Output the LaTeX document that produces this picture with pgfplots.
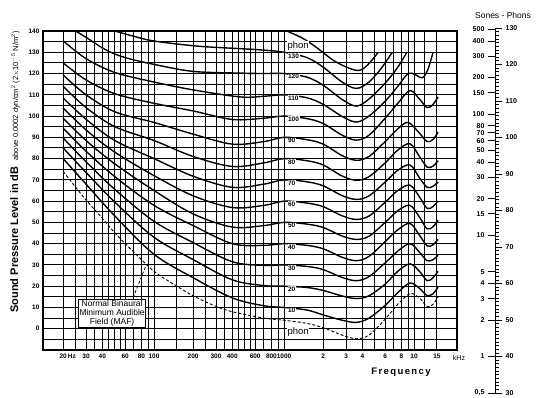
\documentclass[border=0pt]{standalone}
\usepackage{fontspec}
\setmainfont{Liberation Sans}
\usepackage{pgfplots}
\pgfplotsset{compat=1.18}
\newcommand\tk{\fontsize{6.5}{7}\selectfont\bfseries}
\newcommand\tks{\fontsize{7}{8}\selectfont\bfseries}
\pgfplotsset{cur/.style={black, line width=1.4pt, smooth, tension=0.55, mark=none}}
\tikzset{lab/.style={fill=white, inner sep=0.6pt, anchor=west, font=\tk}}
\begin{document}
\begin{tikzpicture}
\path[use as bounding box] (0,0) rectangle (540pt,397pt);
\begin{axis}[
  at={(43pt,47pt)}, anchor=south west,
  scale only axis, width=414pt, height=319pt,
  xmode=log, xmin=14, xmax=21400,
  ymin=-10, ymax=140,
  xtick={20,30,40,60,80,100,200,300,400,600,800,1000,2000,3000,4000,6000,8000,10000,15000},
  xticklabels={20\rlap{\,Hz},30,40,60,80,100,200,300,400,600,800,1000,2,3,4,6,8,10,15},
  extra x ticks={25,35,45,50,55,70,90,150,250,350,450,500,550,700,900,5000,7000,9000,12000},
  extra x tick labels={},
  ytick={0,10,...,140},
  minor ytick={-5,5,...,135},
  xmajorgrids=true, ymajorgrids=true, yminorgrids=true,
  grid style={black, line width=1pt},
  minor grid style={black, line width=1pt},
  extra x tick style={grid style={black, line width=1pt}},
  major tick length=0pt, minor tick length=0pt,
  axis line style={line width=1.6pt},
  tick label style={font=\tk},
  /pgf/number format/assume math mode=true,
  clip=true,
]
% MAF (dashed)
\addplot[black, line width=0.9pt, dash pattern=on 3pt off 2pt, smooth, tension=0.55, mark=none] coordinates {
(20,74)(25,66.5)(30,60.5)(40,52)(50,45)(70,36)(100,27)(150,20)(200,15.5)(300,10.5)(400,8)(700,5)(1000,4)(1500,2.5)(2000,0.5)(2800,-3)(3600,-4.7)(4500,-3)(6000,4.5)(7500,11.5)(9300,16.5)(11000,14.5)(12600,10.4)(14000,11.5)(15300,15)};
% 10 phon
\addplot[cur] coordinates {
(20,80)(30,68)(50,53)(100,35)(200,24)(400,14.5)(700,10.8)(1000,10)(1500,8.8)(2000,6.5)(2800,4)(3600,3)(4500,5)(6000,11)(7500,17)(9300,21.5)(11000,19)(12600,15.6)(14000,16.5)(15300,19.5)};
% 20
\addplot[cur] coordinates {
(20,85)(30,73.5)(50,59.5)(100,43)(200,32.5)(400,23)(700,20.3)(1000,20)(1500,19.4)(2000,18)(2800,15.4)(3600,14.2)(4500,15.5)(6000,21)(7500,27)(9300,30.5)(11000,27)(12600,22.6)(14000,24)(15300,27)};
% 30
\addplot[cur] coordinates {
(20,89.7)(30,78.5)(50,65.5)(100,50.5)(200,40.5)(400,31.5)(700,29.8)(1000,30)(1500,29.3)(2000,27.8)(2800,24.1)(3600,22.6)(4500,24.5)(6000,31)(7500,36.5)(9300,40)(11000,36)(12600,32)(14000,32.5)(15300,34.5)};
% 40
\addplot[cur] coordinates {
(20,94.3)(30,83.5)(50,71.5)(100,58)(200,48.5)(400,40)(700,39.2)(1000,40)(1500,39.2)(2000,37.6)(2800,33.6)(3600,32)(4500,34)(6000,41)(7500,46.5)(9300,49.5)(11000,44)(12600,39)(14000,39.5)(15300,42)};
% 50
\addplot[cur] coordinates {
(20,99)(30,88.5)(50,77.5)(100,65)(200,54)(400,47.8)(700,48.5)(1000,50)(1500,49.2)(2000,47.6)(2800,43.6)(3600,42)(4500,43.5)(6000,50)(7500,55.5)(9300,58)(11000,52.5)(12600,47)(14000,48)(15300,51)};
% 60
\addplot[cur] coordinates {
(20,103.8)(30,93.5)(50,83)(100,72)(200,62.5)(400,57)(700,58)(1000,60)(1500,59.1)(2000,57.4)(2800,53.1)(3600,51.4)(4500,53)(6000,59.5)(7500,65)(9300,67.5)(11000,62)(12600,56.6)(14000,57.5)(15300,60)};
% 70
\addplot[cur] coordinates {
(20,108.5)(30,98.5)(50,88.5)(100,80)(200,71.7)(400,66.5)(700,68)(1000,70)(1500,69.1)(2000,67.2)(2800,62.6)(3600,60.8)(4500,62.5)(6000,69)(7500,74.5)(9300,77)(11000,71)(12600,66.5)(14000,67)(15300,69)};
% 80
\addplot[cur] coordinates {
(20,114)(30,104)(50,95)(100,88.5)(200,81)(400,76.3)(700,78)(1000,80)(1500,79)(2000,77)(2800,71.8)(3600,69.8)(4500,71.5)(6000,78)(7500,84)(9300,87)(11000,81)(12600,76)(14000,76.5)(15300,79)};
% 90
\addplot[cur] coordinates {
(20,119.3)(30,110)(50,102)(100,97)(200,91.5)(400,86.8)(700,88)(1000,90)(1500,88.9)(2000,86.8)(2800,81.4)(3600,79.2)(4500,81)(6000,88)(7500,94)(9000,97)(11000,92)(12600,88)(14000,89)(15300,92.5)};
% 100
\addplot[cur] coordinates {
(20,125)(30,117)(50,110.5)(100,106)(200,102.4)(400,98.4)(700,99)(1000,100)(1500,98.8)(2000,96.5)(2800,91)(3600,88.7)(4500,91)(6000,99)(7500,106)(9300,112)(11000,108)(12600,104)(14000,105.5)(15300,109)};
% 110
\addplot[cur] coordinates {
(20,135.4)(30,127)(50,120.5)(100,116)(200,112.3)(460,109)(700,109.3)(1000,110)(1500,108.6)(2000,105.5)(2800,99.8)(3600,97.2)(4500,100)(6000,107)(7500,114)(9000,120)(10200,119.5)(11600,118)(12800,122)(14000,130)};
% 120
\addplot[cur] coordinates {
(25,140)(30,137)(43,131)(60,127.5)(100,124.3)(200,121)(460,120.2)(700,120)(1000,120)(1500,118.3)(2000,114.5)(2800,107.8)(3600,104.7)(4500,108)(6000,115.5)(7500,123)(8800,130)};
% 130
\addplot[cur] coordinates {
(50,140)(70,137.5)(100,135.3)(214,132.9)(460,131.7)(700,131)(1000,130)(1500,127.5)(2000,123)(2800,116)(3600,113)(4500,116)(5600,122.5)(6800,130)};
% 140 (partial)
\addplot[cur] coordinates {
(1050,140)(1400,136.5)(1800,132)(2500,125.5)(3600,121.5)(4300,123.5)(5300,130)};
% curve labels
\node[lab] at (axis cs:1060,8.5) {10};
\node[lab] at (axis cs:1060,18.5) {20};
\node[lab] at (axis cs:1060,28.5) {30};
\node[lab] at (axis cs:1060,38.5) {40};
\node[lab] at (axis cs:1060,48.5) {50};
\node[lab] at (axis cs:1060,58.5) {60};
\node[lab] at (axis cs:1060,68.5) {70};
\node[lab] at (axis cs:1060,78.5) {80};
\node[lab] at (axis cs:1060,88.5) {90};
\node[lab] at (axis cs:1060,98.5) {100};
\node[lab] at (axis cs:1060,108.5) {110};
\node[lab] at (axis cs:1060,118.5) {120};
\node[lab] at (axis cs:1060,128.3) {130};
\node[fill=white, inner sep=0.6pt, anchor=west, font=\fontsize{9.5}{10}\selectfont] at (axis cs:1050,133) {phon};
\node[fill=white, inner sep=0.6pt, anchor=west, font=\fontsize{9.5}{10}\selectfont] at (axis cs:1050,-1.6) {phon};
% MAF box and pointer
\draw[black, line width=0.8pt, dash pattern=on 3pt off 2pt] (axis cs:69,14.6) -- (axis cs:87,30);
\node[draw, line width=0.8pt, fill=white, align=center, inner xsep=1pt, inner ysep=1pt,
      font=\fontsize{8.5}{9}\selectfont] at (axis cs:47.6,7.1)
      {Normal Binaural\\Minimum Audible\\Field (MAF)};
\end{axis}
% Sones scale
\begin{axis}[
  at={(495pt,4pt)}, anchor=south west, scale only axis, width=0.1pt, height=365pt,
  xmin=0, xmax=1, ymin=30, ymax=130,
  axis x line=none, axis y line*=left,
  ytick={30,40,50,55.85,60,63.22,73.22,79.07,83.22,89.07,93.22,96.44,99.07,101.29,103.22,106.44,112.29,116.44,122.29,126.44,129.66},
  yticklabels={{0,5},1,2,3,4,5,10,15,20,30,40,50,60,70,80,100,150,200,300,400,500},
  tick align=outside, major tick length=7pt,
  tick style={black, line width=0.8pt},
  axis line style={line width=1pt},
  tick label style={font=\tks},
]
\end{axis}
% Phons scale
\begin{axis}[
  at={(495pt,4pt)}, anchor=south west, scale only axis, width=0.1pt, height=365pt,
  xmin=0, xmax=1, ymin=30, ymax=130,
  axis x line=none, axis y line*=right,
  ytick={30,40,...,130}, minor y tick num=9,
  tick align=outside, major tick length=7pt, minor tick length=3.5pt,
  tick style={black, line width=0.7pt},
  axis line style={line width=1pt},
  tick label style={font=\tks},
  /pgf/number format/assume math mode=true,
]
\end{axis}
\node[font=\fontsize{8.5}{10}\selectfont] at (503pt,382pt) {Sones - Phons};
\node[font=\fontsize{7}{8}\selectfont] at (459pt,39.5pt) {kHz};
\node[font=\fontsize{9.5}{11}\selectfont\bfseries\addfontfeatures{LetterSpace=15}] at (401pt,25pt) {Frequency};
\node[rotate=90] at (15pt,225pt) {{\fontsize{11}{12}\selectfont\bfseries Sound Pressure Level in dB}\hspace{6pt}{\fontsize{7.5}{8}\selectfont above 0.0002 dyn/cm\textsuperscript{2} (2$\times$10\textsuperscript{$-$5} N/m\textsuperscript{2})}};
\end{tikzpicture}
\end{document}
